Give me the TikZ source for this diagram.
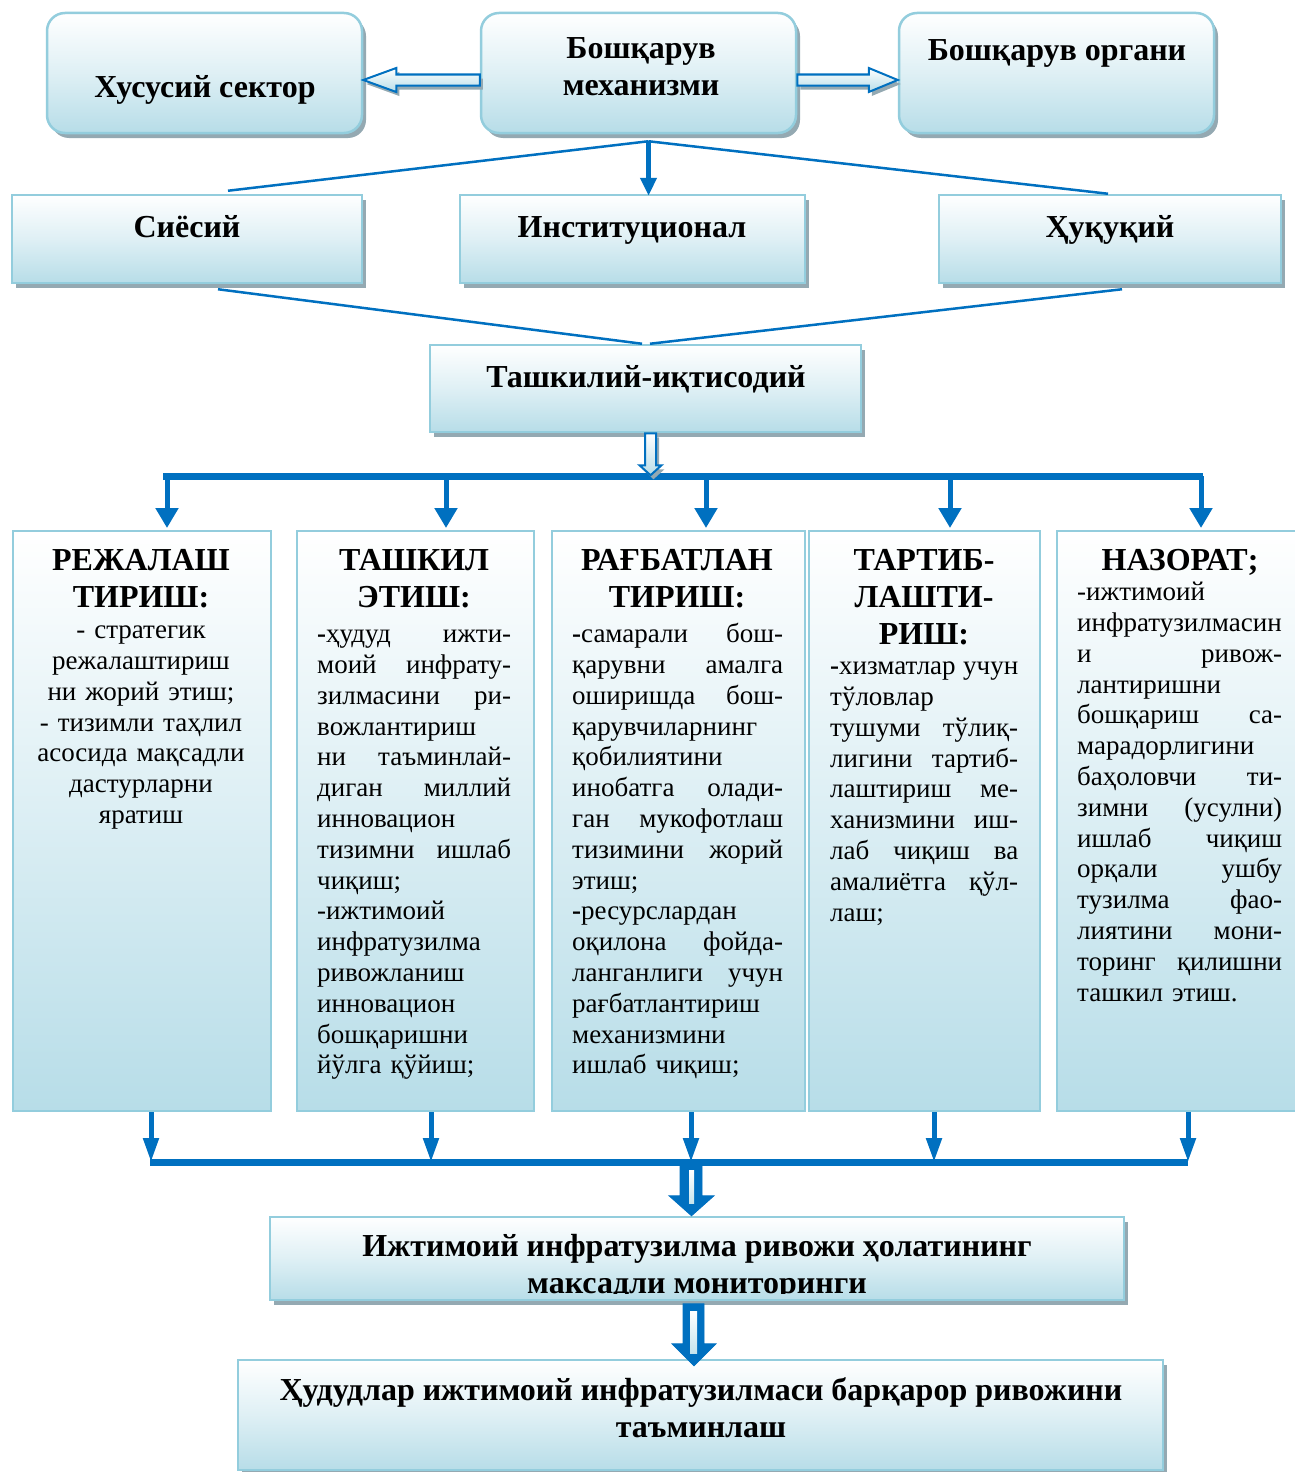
\documentclass[tikz,border=0pt]{standalone}
\usepackage{fontspec}
\setmainfont{Liberation Serif}
\usetikzlibrary{calc,arrows.meta,shadows}
\definecolor{bord}{HTML}{93CDDD}
\definecolor{fillb}{HTML}{B7DDE8}
\definecolor{shad}{HTML}{94A9B2}
\definecolor{conn}{HTML}{0070C0}
\newcommand\jl[2]{\leavevmode\hbox to #1{\spaceskip=0.25em plus 1fil\xspaceskip=0.25em plus 1fil\relax #2}}
\newcommand\tfont{\fontsize{32}{37}\selectfont\bfseries}
\newcommand\bfont{\fontsize{27}{30.8}\selectfont}
\begin{document}
\begin{tikzpicture}[x=1pt,y=-1pt,
  tbox/.style={draw=bord, line width=2.5pt, top color=white, bottom color=fillb, middle color=fillb!45,
    rounded corners=18pt, inner sep=0pt,
    general shadow={fill=shad, shadow xshift=4pt, shadow yshift=-5pt}},
  sbox/.style={draw=bord, line width=2.5pt, top color=white, bottom color=fillb, middle color=fillb!45,
    inner sep=0pt, general shadow={fill=shad, shadow xshift=4pt, shadow yshift=-5pt}},
  cbox/.style={draw=bord, line width=2pt, top color=white, bottom color=fillb, inner sep=0pt,
    minimum height=580, anchor=north west},
  tlabel/.style={font=\tfont, inner sep=0pt, align=center},
  body/.style={font=\bfont, inner sep=0pt},
  thinline/.style={draw=conn, line width=2.5pt},
  hollow/.style={draw=conn, line width=2pt, top color=white, bottom color=fillb, line join=miter,
    general shadow={fill=shad, shadow xshift=3pt, shadow yshift=-4pt}},
  solidarrow/.style={fill=conn, draw=conn, line width=0.8pt, line join=miter},
  slot/.style={top color=white, bottom color=fillb!80},
  bararrow/.style={draw=conn, line width=5pt, -{Triangle[width=22pt,length=20pt]}},
  botarrow/.style={draw=conn, line width=5pt, -{Triangle[width=15pt,length=24pt]}},
  bar/.style={draw=conn, line width=7pt}
]
\useasboundingbox[fill=white] (0,0) rectangle (1295,1472);

% top row
\node[tbox, minimum width=315, minimum height=120] (hus) at (204.5,73) {};
\node[tbox, minimum width=315, minimum height=120] (mech) at (638.5,73) {};
\node[tbox, minimum width=315, minimum height=120] (org) at (1056.5,73) {};
\node[tlabel, anchor=base] (thus) at (205,97) {Хусусий сектор};
\node[tlabel, anchor=north] (tmech) at (641,32.5) {\strut Бошқарув\\механизми};
\node[tlabel, anchor=base] (torg) at (1057,60) {Бошқарув органи};

% hollow arrows
\path[hollow] ($(hus.east)+(0,7)$) -- ++(33,-12) -- ++(0,6.5) -- ($(mech.west)+(0,1.5)$) -- ++(0,11)
  -- ($(hus.east)+(33,12.5)$) -- ++(0,6.5) -- cycle;
\path[hollow] ($(mech.east)+(0,1.5)$) -- ($(org.west)+(-29,1.5)$) -- ++(0,-6.5) -- ($(org.west)+(0,7)$)
  -- ($(org.west)+(-29,19)$) -- ++(0,-6.5) -- ($(mech.east)+(0,12.5)$) -- cycle;

% second row
\node[sbox, minimum width=350, minimum height=88] (sie) at (187,239) {};
\node[sbox, minimum width=345, minimum height=88] (inst) at (632.5,239) {};
\node[sbox, minimum width=342, minimum height=88] (huq) at (1110,239) {};
\node[tlabel, anchor=base] (tsie) at (187,237) {Сиёсий};
\node[tlabel, anchor=base] (tinst) at (632,237) {Институционал};
\node[tlabel, anchor=base] (thuq) at (1110,237) {Ҳуқуқий};

\coordinate (mj) at ($(mech.south)+(10,7)$);
\draw[thinline] (mj) -- ($(sie.north)+(41,-3)$);
\draw[thinline] (mj) -- ($(huq.north)+(-2,0)$);
\draw[draw=conn, line width=4.5pt, -{Triangle[width=16pt,length=18pt]}] (mj) -- ($(mj |- inst.north)+(0,2)$);

% third row
\node[sbox, minimum width=431, minimum height=87] (tash) at (645.5,388.5) {};
\node[tlabel, anchor=base] (ttash) at (646,387) {Ташкилий-иқтисодий};
\draw[thinline] ($(sie.south)+(31,5)$) -- ($(tash.north)+(-3.5,0)$);
\draw[thinline] ($(huq.south)+(12,5)$) -- ($(tash.north)+(4.5,0)$);

% columns
\node[cbox, minimum width=258] (c1) at (12,530) {};
\node[cbox, minimum width=237] (c2) at (296,530) {};
\node[cbox, minimum width=253] (c3) at (551,530) {};
\node[cbox, minimum width=231] (c4) at (808,530) {};
\node[cbox, minimum width=242] (c5) at (1056,530) {};

% upper bar
\coordinate (bl) at (163,476);
\coordinate (br) at (1203,476);
\draw[bar] (bl) -- (br);
\path[hollow] ($(tash.south)+(-0.5,0)$) -- ++(11,0) -- ++(0,32) -- ++(5.5,0) -- ++(-11,10) -- ++(-11,-10) -- ++(5.5,0) -- cycle;
\draw[bararrow] ($(c1.north)+(25,-54)$) -- ($(c1.north)+(25,-2)$);
\draw[bararrow] ($(c2.north)+(30.5,-54)$) -- ($(c2.north)+(30.5,-2)$);
\draw[bararrow] ($(c3.north)+(27.5,-54)$) -- ($(c3.north)+(27.5,-2)$);
\draw[bararrow] ($(c4.north)+(25.5,-54)$) -- ($(c4.north)+(25.5,-2)$);
\draw[bararrow] ($(c5.north)+(23,-54)$) -- ($(c5.north)+(23,-2)$);

% column headers
\node[tlabel, anchor=north] (h1) at (141,544.6) {\strut РЕЖАЛАШ\\ТИРИШ:};
\node[tlabel, anchor=north] (h2) at (414,544.6) {\strut ТАШКИЛ\\ЭТИШ:};
\node[tlabel, anchor=north] (h3) at (677,544.6) {\strut РАҒБАТЛАН\\ТИРИШ:};
\node[tlabel, anchor=north] (h4) at (924,544.6) {\strut ТАРТИБ-\\ЛАШТИ-\\РИШ:};
\node[tlabel, anchor=north] (h5) at (1180,544.6) {\strut НАЗОРАТ;};

% column bodies
\node[body, anchor=north, text width=250, align=center] (b1) at (141,617) {\strut - стратегик\\
режалаштириш\\
ни жорий этиш;\\
- тизимли таҳлил\\
асосида мақсадли\\
дастурларни\\
яратиш};

\node[body, anchor=north west, text width=194, align=left] (b2) at (317,621) {\strut\jl{194pt}{{\bfseries-}ҳудуд ижти-}\\
\jl{194pt}{моий инфрату-}\\
\jl{194pt}{зилмасини ри-}\\
вожлантириш\\
\jl{194pt}{ни таъминлай-}\\
\jl{194pt}{диган миллий}\\
инновацион\\
\jl{194pt}{тизимни ишлаб}\\
чиқиш;\\
-ижтимоий\\
инфратузилма\\
ривожланиш\\
инновацион\\
бошқаришни\\
йўлга қўйиш;};

\node[body, anchor=north west, text width=211, align=left] (b3) at (572,621) {\strut\jl{211pt}{{\bfseries-}самарали бош-}\\
\jl{211pt}{қарувни амалга}\\
\jl{211pt}{оширишда бош-}\\
қарувчиларнинг\\
қобилиятини\\
\jl{211pt}{инобатга олади-}\\
\jl{211pt}{ган мукофотлаш}\\
\jl{211pt}{тизимини жорий}\\
этиш;\\
{\bfseries-}ресурслардан\\
\jl{211pt}{оқилона фойда-}\\
\jl{211pt}{ланганлиги учун}\\
рағбатлантириш\\
механизмини\\
ишлаб чиқиш;};

\node[body, anchor=north west, text width=188, align=left] (b4) at (830,653) {\strut\jl{188pt}{{\bfseries-}хизматлар учун}\\
тўловлар\\
\jl{188pt}{тушуми тўлиқ-}\\
\jl{188pt}{лигини тартиб-}\\
\jl{188pt}{лаштириш ме-}\\
\jl{188pt}{ханизмини иш-}\\
\jl{188pt}{лаб чиқиш ва}\\
\jl{188pt}{амалиётга қўл-}\\
лаш;};

\node[body, anchor=north west, text width=205, align=left] (b5) at (1077,579) {\strut -ижтимоий\\
инфратузилмасин\\
\jl{205pt}{и ривож-}\\
лантиришни\\
\jl{205pt}{бошқариш са-}\\
марадорлигини\\
\jl{205pt}{баҳоловчи ти-}\\
\jl{205pt}{зимни (усулни)}\\
\jl{205pt}{ишлаб чиқиш}\\
\jl{205pt}{орқали ушбу}\\
\jl{205pt}{тузилма фао-}\\
\jl{205pt}{лиятини мони-}\\
\jl{205pt}{торинг қилишни}\\
ташкил этиш.};

% lower bar
\coordinate (ll) at (150,1162);
\coordinate (lr) at (1188,1162);
\draw[botarrow] ($(c1.south)+(9,0)$) -- ($(c1.south)+(9,50)$);
\draw[botarrow] ($(c2.south)+(15.5,0)$) -- ($(c2.south)+(15.5,50)$);
\draw[botarrow] ($(c3.south)+(12.5,0)$) -- ($(c3.south)+(12.5,50)$);
\draw[botarrow] ($(c4.south)+(9.5,0)$) -- ($(c4.south)+(9.5,50)$);
\draw[botarrow] ($(c5.south)+(10,0)$) -- ($(c5.south)+(10,50)$);
\draw[bar] (ll) -- (lr);

% monitoring box
\node[sbox, minimum width=854, minimum height=83] (mon) at (697,1258.5) {};
\begin{scope}
\clip ($(mon.north west)+(2,2)$) rectangle ($(mon.south east)+(-2,-8)$);
\node[tlabel, anchor=north] (tmon) at (697,1230.5) {\strut Ижтимоий инфратузилма ривожи ҳолатининг\\максадли мониторинги};
\end{scope}
\path[solidarrow] ($(mon.north)+(-17,-54)$) -- ++(22,0) -- ++(0,34) -- ++(12,0) -- ($(mon.north)+(-5.5,0)$)
  -- ($(mon.north)+(-28,-20)$) -- ++(11,0) -- cycle;
\path[slot] ($(mon.north)+(-8,-45)$) rectangle ($(mon.north)+(-3,-12)$);

% final box
\node[sbox, minimum width=925, minimum height=110] (fin) at (700.5,1415) {};
\node[tlabel, anchor=north] (tfin) at (701,1374) {\strut Ҳудудлар ижтимоий инфратузилмаси барқарор ривожини\\таъминлаш};
\path[solidarrow] ($(fin.north)+(-17.5,-55)$) -- ++(21,0) -- ++(0,40) -- ++(12,0) -- ($(fin.north)+(-6.5,7)$)
  -- ($(fin.north)+(-28.5,-15)$) -- ++(11,0) -- cycle;
\path[slot] ($(fin.north)+(-10.5,-47)$) rectangle ($(fin.north)+(-3.5,-5)$);
\end{tikzpicture}
\end{document}
